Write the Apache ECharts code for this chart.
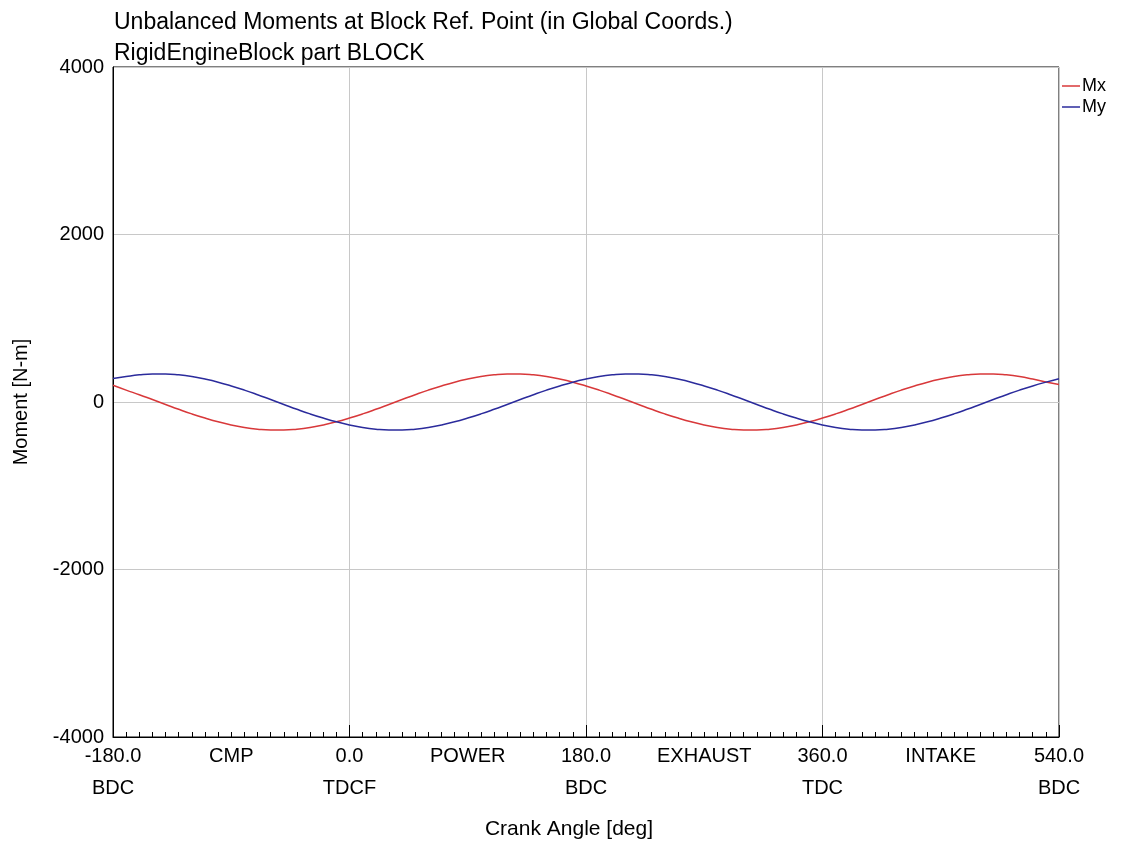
<!DOCTYPE html>
<html>
<head>
<meta charset="utf-8">
<script src="https://cdn.jsdelivr.net/npm/echarts@6/dist/echarts.min.js"></script>
<style>
html,body{margin:0;padding:0;background:#fff;}
#chart{width:1129px;height:845px;}
</style>
</head>
<body>
<div id="chart"></div>
<script>
// Crank angle samples [deg]
const angles = [];
for (let a = -180; a <= 540; a += 10) angles.push(a);

// Mx [N-m], one value per 10 deg from -180 to 540
const mx = [200,142,87,29,-29,-87,-142,-192,-237,-274,-304,-324,-334,-334,-324,-304,-274,-237,
  -192,-142,-87,-29,29,87,142,192,237,274,304,324,334,334,324,304,274,237,
  192,142,87,29,-29,-87,-142,-192,-237,-274,-304,-324,-334,-334,-324,-304,-274,-237,
  -192,-142,-87,-29,29,87,142,192,237,274,304,324,334,334,324,304,274,240,
  210];
// My [N-m]
const my = [280,304,324,334,334,324,304,274,237,192,142,87,29,-29,-87,-142,-192,-237,
  -274,-304,-324,-334,-334,-324,-304,-274,-237,-192,-142,-87,-29,29,87,142,192,237,
  274,304,324,334,334,324,304,274,237,192,142,87,29,-29,-87,-142,-192,-237,
  -274,-304,-324,-334,-334,-324,-304,-274,-237,-192,-142,-87,-29,29,87,142,192,237,
  278];

const seriesNames = ['Mx', 'My'];
const seriesColors = ['#d8383a', '#2b2b9c'];
const yTicks = [-4000, -2000, 0, 2000, 4000];
const angleLabels = {'-180': '-180.0\nBDC', '0': '0.0\nTDCF', '180': '180.0\nBDC', '360': '360.0\nTDC', '540': '540.0\nBDC'};
const phaseLabels = {'-90': 'CMP', '90': 'POWER', '270': 'EXHAUST', '450': 'INTAKE'};

const FONT = 'Liberation Sans, Arial, sans-serif';
const chart = echarts.init(document.getElementById('chart'));

const option = {
  backgroundColor: '#fff',
  animation: false,
  title: {
    text: 'Unbalanced Moments at Block Ref. Point (in Global Coords.)\nRigidEngineBlock part BLOCK',
    left: 109, top: 2,
    textStyle: {fontFamily: FONT, fontSize: 23, fontWeight: 'normal', color: '#000', lineHeight: 31}
  },
  legend: {
    orient: 'vertical', left: 1057, top: 72, itemGap: 3,
    icon: 'rect', itemWidth: 18, itemHeight: 1.5,
    textStyle: {fontFamily: FONT, fontSize: 18, color: '#000', padding: [0, 0, 0, -3]},
    data: seriesNames
  },
  grid: {left: 113, right: 70, top: 67, bottom: 107, show: true, borderColor: '#000', borderWidth: 1},
  xAxis: [{
    type: 'value', min: -180, max: 540, interval: 180,
    name: 'Crank Angle [deg]', nameLocation: 'middle', nameGap: 82,
    nameTextStyle: {fontFamily: FONT, fontSize: 21, color: '#000', padding: [0, 34, 0, 0]},
    axisLine: {show: true, onZero: false, lineStyle: {color: '#000', width: 1}},
    axisTick: {show: true, inside: true, length: 12, lineStyle: {color: '#000'}},
    minorTick: {show: true, splitNumber: 18, length: 5, lineStyle: {color: '#000'}},
    splitLine: {show: true, lineStyle: {color: '#c8c8c8', width: 1}},
    axisLabel: {
      fontFamily: FONT, fontSize: 20, color: '#000', lineHeight: 32, margin: 3,
      formatter: v => angleLabels[String(v)] || ''
    }
  }, {
    type: 'value', min: -180, max: 540, interval: 90, position: 'bottom',
    axisLine: {show: false, onZero: false}, axisTick: {show: false}, splitLine: {show: false},
    axisLabel: {
      fontFamily: FONT, fontSize: 20, color: '#000', lineHeight: 32, margin: 3,
      formatter: v => phaseLabels[String(v)] || ''
    }
  }],
  yAxis: {
    type: 'value', min: yTicks[0], max: yTicks[yTicks.length - 1], interval: 2000,
    name: 'Moment [N-m]', nameLocation: 'middle', nameGap: 82,
    nameTextStyle: {fontFamily: FONT, fontSize: 20, color: '#000'},
    axisLine: {show: true, onZero: false, lineStyle: {color: '#000'}},
    axisTick: {show: false},
    splitLine: {show: true, lineStyle: {color: '#c8c8c8', width: 1}},
    axisLabel: {fontFamily: FONT, fontSize: 20, color: '#000', margin: 9, formatter: v => String(v)}
  },
  series: [
    {name: seriesNames[0], type: 'line', xAxisIndex: 0, smooth: true, showSymbol: false,
     lineStyle: {color: seriesColors[0], width: 1.5}, itemStyle: {color: seriesColors[0]},
     data: angles.map((a, i) => [a, mx[i]])},
    {name: seriesNames[1], type: 'line', xAxisIndex: 0, smooth: true, showSymbol: false,
     lineStyle: {color: seriesColors[1], width: 1.5}, itemStyle: {color: seriesColors[1]},
     data: angles.map((a, i) => [a, my[i]])}
  ]
};
chart.setOption(option);
</script>
</body>
</html>
